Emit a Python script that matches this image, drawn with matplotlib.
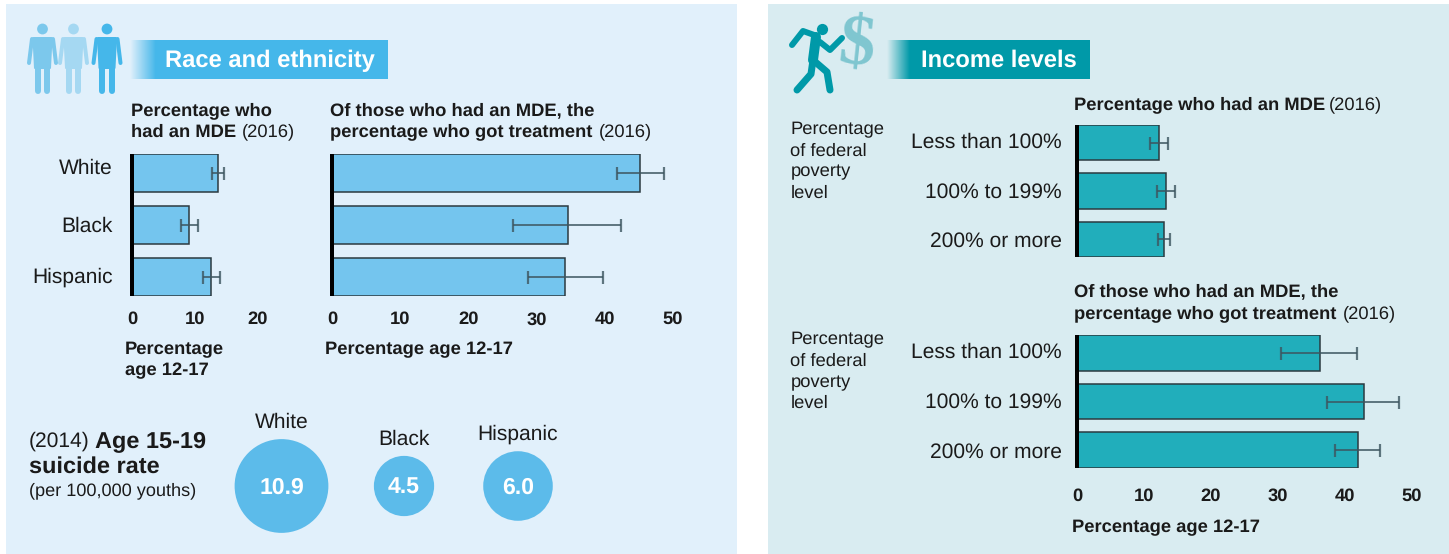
import numpy as np
import matplotlib
matplotlib.use("Agg")
import matplotlib.pyplot as plt
from matplotlib.colors import to_rgb
from matplotlib.patches import Circle, Rectangle, Polygon

plt.rcParams['font.family'] = ['Liberation Sans', 'DejaVu Sans']
plt.rcParams['text.hinting'] = 'none'

W, H = 1449, 554

race = ["White", "Black", "Hispanic"]
race_mde = [13.7, 9.0, 12.6]
race_mde_lo = [12.7, 7.7, 11.2]
race_mde_hi = [14.6, 10.5, 14.0]
race_treat = [45.2, 34.6, 34.2]
race_treat_lo = [41.8, 26.6, 28.8]
race_treat_hi = [48.7, 42.4, 39.8]

income = ["Less than 100%", "100% to 199%", "200% or more"]
inc_mde = [12.2, 13.3, 13.0]
inc_mde_lo = [10.9, 11.9, 12.1]
inc_mde_hi = [13.6, 14.6, 13.9]
inc_treat = [36.2, 42.8, 42.0]
inc_treat_lo = [30.5, 37.3, 38.5]
inc_treat_hi = [41.8, 48.0, 45.2]

suicide_rate = [10.9, 4.5, 6.0]

BLUE = "#45b7ea"
BAR_BLUE = "#74c5ee"
TEAL = "#0099a8"
BAR_TEAL = "#21aebb"
px = 0.72  # pixels to points at dpi 100

fig = plt.figure(figsize=(W / 100, H / 100), dpi=100, facecolor="white")
bg = fig.add_axes([0, 0, 1, 1], zorder=0)
bg.set_xlim(0, W)
bg.set_ylim(H, 0)
bg.axis("off")


def label(x, y, s, size=18.4, weight="normal", ha="left", va="center", color="#1a1a1a"):
    return bg.text(x, y, s, fontsize=size * px, fontweight=weight, ha=ha, va=va, color=color)


def bars(left, right, top, bottom, xmax, ticks, vals, lo, hi, color, pad=11):
    ax = fig.add_axes([left / W, 1 - bottom / H, (right - left) / W, (bottom - top) / H], zorder=1)
    ax.patch.set_visible(False)
    y = np.arange(len(vals))
    ax.barh(y, vals, height=0.73, color=color, edgecolor="#2b3a40", linewidth=1.1)
    v = np.array(vals)
    ax.errorbar(v, y, xerr=[v - np.array(lo), np.array(hi) - v], fmt="none", ecolor="#3d5660",
                elinewidth=1.4, capsize=6.5 * px, capthick=1.6, alpha=0.8, zorder=4)
    ax.set_xlim(0, xmax)
    ax.set_ylim(len(vals) - 1 + 0.365, -0.365)
    for s in ["top", "right", "bottom"]:
        ax.spines[s].set_visible(False)
    ax.spines["left"].set_linewidth(4 * px)
    ax.spines["left"].set_color("black")
    ax.spines["left"].set_capstyle("butt")
    ax.set_yticks([])
    ax.set_xticks(ticks)
    ax.tick_params(axis="x", length=0, pad=pad, labelsize=18.4 * px)
    for t in ax.get_xticklabels():
        t.set_fontweight("bold")
        t.set_color("#1a1a1a")
    return ax


def banner(x0, x1, fade, y0, y1, color, panel):
    c0 = np.array(to_rgb(panel))
    c1 = np.array(to_rgb(color))
    t = np.linspace(0, 1, 64)[:, None]
    grad = (c0 * (1 - t) + c1 * t)[None, :, :]
    bg.imshow(grad, extent=(x0, fade, y1, y0), aspect="auto", zorder=1)
    bg.add_patch(Rectangle((fade, y0), x1 - fade, y1 - y0, color=color, lw=0, zorder=1))
    bg.set_xlim(0, W)
    bg.set_ylim(H, 0)


def stroke(xs, ys, color, w):
    bg.plot(xs, ys, color=color, lw=w * px, solid_capstyle="round", solid_joinstyle="round", zorder=2)


def person(cx, color):
    bg.add_patch(Circle((cx, 29), 5.4, color=color, lw=0, zorder=2))
    bg.add_patch(Polygon([(cx - 9, 38), (cx + 9, 38), (cx + 7.5, 68), (cx - 7.5, 68)], closed=True,
                         color=color, lw=2 * px, joinstyle="round", zorder=2))
    stroke([cx - 10.5, cx - 13.5], [39, 63], color, 4)
    stroke([cx + 10.5, cx + 13.5], [39, 63], color, 4)
    stroke([cx - 4.6, cx - 4.6], [66, 91], color, 6)
    stroke([cx + 4.6, cx + 4.6], [66, 91], color, 6)


# panels
bg.add_patch(Rectangle((6, 4), 731, 550, color="#e1f0fb", lw=0, zorder=0))
bg.add_patch(Rectangle((768, 4), 681, 550, color="#d9ecf1", lw=0, zorder=0))

# left header
for cx, c in zip([42.5, 73.5, 107], ["#7cc8ec", "#a5d8f2", BLUE]):
    person(cx, c)
banner(130, 388, 156, 40, 79, BLUE, "#e1f0fb")
label(165, 61, "Race and ethnicity", size=23.8, weight="bold", color="white")

# right header
bg.text(857, 46, "$", fontsize=72 * px, fontweight="bold", family="Liberation Serif", color="#7fc6d0",
        ha="center", va="center", rotation=-6, zorder=2)
bg.add_patch(Circle((822.5, 29.5), 5.6, color=TEAL, lw=0, zorder=3))
stroke([792, 803, 817], [45, 31, 36], TEAL, 6)
stroke([816, 813], [37, 60], TEAL, 10)
stroke([820, 830, 842], [42, 50, 38], TEAL, 6)
stroke([813, 811, 797], [60, 74, 90], TEAL, 7)
stroke([813, 827, 830], [60, 72, 90], TEAL, 7)
banner(887, 1090, 910, 40, 79, TEAL, "#d9ecf1")
label(921, 61, "Income levels", size=23.8, weight="bold", color="white")

# race charts
bars(132, 258, 154, 296, 20, [0, 10, 20], race_mde, race_mde_lo, race_mde_hi, BAR_BLUE)
bars(332, 673, 154, 296, 50, [0, 10, 20, 30, 40, 50], race_treat, race_treat_lo, race_treat_hi, BAR_BLUE)

for s, y in zip(race, [168, 226, 277]):
    label(113, y, s, size=21, ha="right")

label(131, 111, "Percentage who", weight="bold")
label(131, 132, "had an MDE", weight="bold")
label(242, 132, "(2016)")
label(330, 111, "Of those who had an MDE, the", weight="bold")
label(330, 132, "percentage who got treatment", weight="bold")
label(599, 132, "(2016)")
label(125, 349.5, "Percentage", weight="bold")
label(125, 370.5, "age 12-17", weight="bold")
label(325, 349.5, "Percentage age 12-17", weight="bold")

# suicide rate
label(29, 441, "(2014)", size=21)
label(95, 441, "Age 15-19", size=23.5, weight="bold")
label(29, 467, "suicide rate", size=23.5, weight="bold")
label(29, 491, "(per 100,000 youths)", size=18.2)
for s, v, cx, ly in zip(race, suicide_rate, [281.5, 404, 518], [422, 439, 434]):
    bg.add_patch(Circle((cx, 486), 14.2 * np.sqrt(v), color="#5cbbea", lw=0, zorder=2))
    bg.text(cx, 487.5, f"{v}", fontsize=23 * px, fontweight="bold", color="white", ha="center", va="center", zorder=3)
    label(cx, ly, s, size=21, ha="center")

# income charts
bars(1077, 1412, 125, 257, 50, [], inc_mde, inc_mde_lo, inc_mde_hi, BAR_TEAL)
bars(1077, 1412, 335, 468, 50, [0, 10, 20, 30, 40, 50], inc_treat, inc_treat_lo, inc_treat_hi, BAR_TEAL, pad=14)

for s, y in zip(income, [142.5, 192.5, 241.5]):
    label(1061.5, y, s, size=21, ha="right")
for s, y in zip(income, [352.5, 402.5, 452.5]):
    label(1061.5, y, s, size=21, ha="right")

for y0 in [129.5, 340]:
    for i, s in enumerate(["Percentage", "of federal", "poverty", "level"]):
        label(790.5, y0 + i * 21.2, s)

label(1074, 105, "Percentage who had an MDE", weight="bold")
label(1329, 105, "(2016)")
label(1074, 292, "Of those who had an MDE, the", weight="bold")
label(1074, 314, "percentage who got treatment", weight="bold")
label(1343, 314, "(2016)")
label(1072, 527.5, "Percentage age 12-17", weight="bold")

fig.savefig("out.png", dpi=100)
